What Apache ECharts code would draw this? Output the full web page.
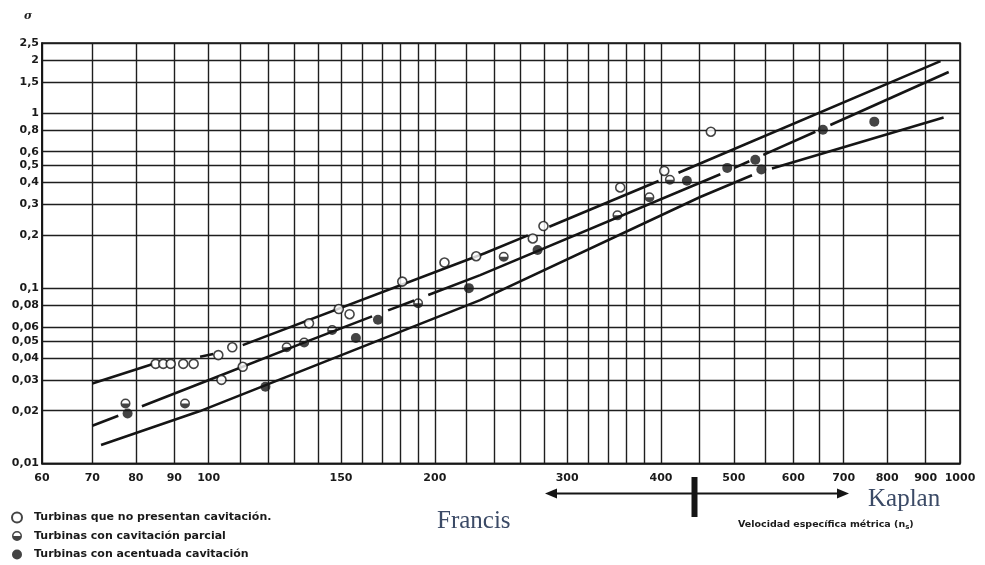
<!DOCTYPE html>
<html><head><meta charset="utf-8">
<script src="https://cdn.jsdelivr.net/npm/echarts@6/dist/echarts.min.js"></script>
<style>html,body{margin:0;padding:0;background:#fff}#c{width:985px;height:565px}</style>
</head><body><div id="c"></div>
<script>
// ---- axis ticks ----
const xGridValues = [60,70,80,90,100,110,120,130,140,150,160,170,180,190,200,
  220,240,260,280,300,320,340,360,380,400,450,500,550,600,650,700,800,900,1000];
const xLabelValues = [60,70,80,90,100,150,200,300,400,500,600,700,800,900,1000];
const yGridValues = [0.01,0.02,0.03,0.04,0.05,0.06,0.08,0.1,0.2,0.3,0.4,0.5,0.6,0.8,1,1.5,2,2.5];

// ---- measured points [ns, sigma] ----
const noCavitation = [[85,0.037],[87,0.037],[89,0.037],[92.5,0.037],[95.5,0.037],[103,0.0415],
  [107.5,0.046],[104,0.030],[111,0.0356],[136,0.063],[149,0.076],[154,0.071],[181,0.109],
  [206,0.14],[227,0.152],[270,0.192],[279,0.226],[353,0.375],[404,0.466],[466,0.78]];
const partialCavitation = [[77.5,0.022],[93,0.022],[127,0.046],[134,0.049],[146,0.0577],
  [190,0.082],[247,0.151],[350,0.26],[386,0.33],[411,0.415]];
const strongCavitation = [[78,0.0193],[119,0.0274],[157,0.052],[168,0.066],[222,0.1],
  [274,0.165],[433,0.41],[490,0.485],[534,0.54],[544,0.475],[657,0.80],[769,0.89]];

// ---- limit curves (segments, broken where drawn broken) ----
const upperCurve = [
  [[70,0.0286],[84.3,0.0369]],
  [[97.4,0.0406],[101.4,0.0421]],
  [[111,0.0473],[233,0.158],[266,0.200]],
  [[284,0.224],[397,0.408]],
  [[422,0.455],[451,0.514],[942,1.97]]
];
const middleCurve = [
  [[70,0.0164],[75.8,0.0187]],
  [[81.5,0.0212],[97.4,0.0286],[134.4,0.0492],[165,0.069]],
  [[173.3,0.0747],[187.7,0.0851]],
  [[196,0.0913],[229.8,0.1186],[479.7,0.446]],
  [[500.7,0.485],[524.3,0.529]],
  [[547.3,0.575],[641.9,0.780]],
  [[672.1,0.852],[966,1.708]]
];
const lowerCurve = [
  [[71.9,0.01275],[97.4,0.0199],[229.8,0.0854],[451,0.331],[528.6,0.44]],
  [[562,0.481],[951,0.939]]
];

const legendNames = ['Turbinas que no presentan cavitación.','Turbinas con cavitación parcial','Turbinas con acentuada cavitación'];

const halfPath = 'path://M0,-10A10,10 0 1,1 0,10A10,10 0 1,1 0,-10Z M0,-7A7,7 0 1,0 0,7A7,7 0 1,0 0,-7Z M7,0A7,7 0 0,1 -7,0Z';

const ink = '#151515';
const series = [];
function addCurve(segs, name) {
  segs.forEach((seg, i) => {
    series.push({
      type: 'line', name: name + i, data: seg, showSymbol: false, symbol: 'none',
      lineStyle: { color: ink, width: 2.6 }, z: 2, silent: true
    });
  });
}
addCurve(upperCurve, 'upper');
addCurve(middleCurve, 'middle');
addCurve(lowerCurve, 'lower');

series.push({
  type: 'scatter', name: legendNames[0], data: noCavitation, symbol: 'circle', symbolSize: 9,
  itemStyle: { color: '#fff', borderColor: ink, borderWidth: 1.6 }, z: 5
});
series.push({
  type: 'scatter', name: legendNames[1], data: partialCavitation, symbol: halfPath, symbolSize: 10,
  itemStyle: { color: ink }, z: 5
});
series.push({
  type: 'scatter', name: legendNames[2], data: strongCavitation, symbol: 'circle', symbolSize: 10,
  itemStyle: { color: ink }, z: 5
});

const labelFont = { fontFamily: 'DejaVu Sans', fontWeight: 'bold', fontSize: 11, color: '#1a1a1a' };

const option = {
  animation: false,
  backgroundColor: '#fff',
  grid: { left: 42, right: 25, top: 43, bottom: 101.5, show: true, borderColor: ink, borderWidth: 1.6, backgroundColor: 'transparent' },
  xAxis: {
    type: 'log', logBase: 10, min: 60, max: 1000,
    axisLine: { show: true, lineStyle: { color: ink, width: 1.6 } },
    axisTick: { show: false, customValues: xGridValues },
    splitLine: { show: true, lineStyle: { color: '#1e1e1e', width: 1.4 } },
    axisLabel: Object.assign({ customValues: xLabelValues, margin: 9,
      formatter: v => String(Math.round(v)) }, labelFont)
  },
  yAxis: {
    type: 'log', logBase: 10, min: 0.01, max: 2.5,
    axisLine: { show: true, lineStyle: { color: ink, width: 1.6 } },
    axisTick: { show: false, customValues: yGridValues },
    splitLine: { show: true, lineStyle: { color: '#1e1e1e', width: 1.4 } },
    axisLabel: Object.assign({ customValues: yGridValues, margin: 3,
      formatter: v => String(+Number(v).toPrecision(3)).replace('.', ',') }, labelFont)
  },
  legend: {
    data: legendNames, orient: 'vertical', left: 11, top: 511, padding: 0,
    itemWidth: 10, itemHeight: 10, itemGap: 5.5, selectedMode: false,
    textStyle: { fontFamily: 'DejaVu Sans', fontWeight: 'bold', fontSize: 11, color: '#1a1a1a', lineHeight: 13, padding: [0,0,0,7] }
  },
  graphic: [
    { type: 'text', x: 24, y: 16, style: { text: 'σ', font: 'italic bold 11px "DejaVu Serif"', fill: '#222', verticalAlign: 'middle' } },
    { type: 'text', x: 437, y: 521, style: { text: 'Francis', font: '25px "Liberation Serif"', fill: '#3b4a66', verticalAlign: 'middle' } },
    { type: 'text', x: 868, y: 499, style: { text: 'Kaplan', font: '25px "Liberation Serif"', fill: '#3b4a66', verticalAlign: 'middle' } },
    { type: 'line', shape: { x1: 553, y1: 493.5, x2: 840, y2: 493.5 }, style: { stroke: ink, lineWidth: 2 } },
    { type: 'polygon', shape: { points: [[545,493.5],[557,488.5],[557,498.5]] }, style: { fill: ink } },
    { type: 'polygon', shape: { points: [[849,493.5],[837,488.5],[837,498.5]] }, style: { fill: ink } },
    { type: 'rect', shape: { x: 691.5, y: 477, width: 6, height: 40 }, style: { fill: ink } },
    { type: 'text', x: 738, y: 525, style: {
        text: '{a|Velocidad específica métrica (n}{s|s}{a|)}', verticalAlign: 'middle',
        rich: { a: { fontFamily: 'DejaVu Sans', fontWeight: 'bold', fontSize: 9.5, fill: '#1a1a1a' },
                s: { fontFamily: 'DejaVu Sans', fontWeight: 'bold', fontSize: 7, fill: '#1a1a1a', padding: [5,0,0,0] } } } }
  ],
  series: series
};
const chart = echarts.init(document.getElementById('c'), null, { renderer: 'canvas' });
chart.setOption(option);
</script></body></html>
